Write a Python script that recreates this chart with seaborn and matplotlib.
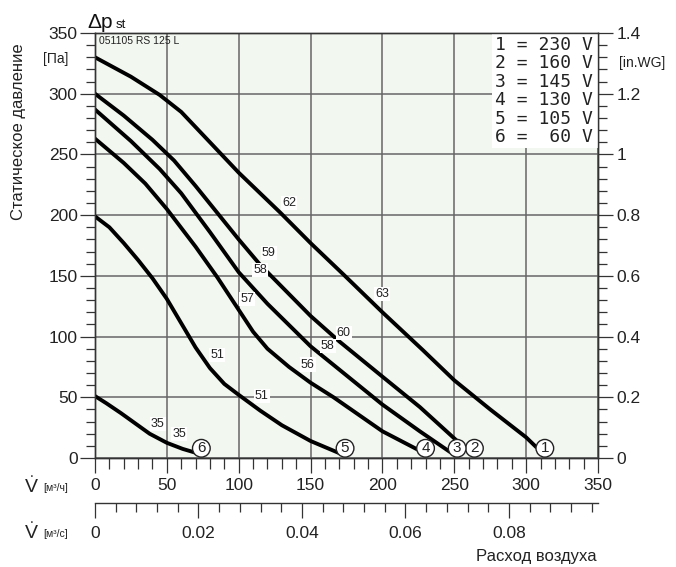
import numpy as np
import pandas as pd
import matplotlib
matplotlib.use('Agg')
import matplotlib.pyplot as plt
from matplotlib.ticker import MultipleLocator, FuncFormatter
from matplotlib.patches import Rectangle
import seaborn as sns

# ---------------- data ----------------
curve_ids = ['1', '2', '3', '4', '5', '6']
voltages = ['230', '160', '145', '130', '105', '60']

c1_x = [0, 25, 45, 60, 80, 100, 129, 150, 173, 200, 228, 250, 275, 300, 307]
c1_y = [330, 314, 299, 285, 260, 235, 202, 177, 151, 120, 89, 64, 40, 17, 9]

c2_x = [0, 20, 40, 55, 70, 85, 100, 115, 130, 150, 170, 200, 226, 252]
c2_y = [300, 282, 262, 245, 224, 202, 180, 159, 141, 117, 96, 67, 42, 14]

c3_x = [0, 25, 45, 60, 80, 100, 120, 150, 175, 200, 226, 247]
c3_y = [287, 261, 238, 218, 186, 153, 127, 92, 68, 44, 22, 5]

c4_x = [0, 20, 35, 50, 70, 85, 100, 110, 120, 135, 150, 166, 200, 226]
c4_y = [263, 243, 226, 205, 174, 149, 122, 104, 90, 75, 62, 50, 22, 6]

c5_x = [0, 10, 20, 30, 40, 50, 60, 70, 80, 90, 100, 115, 130, 150, 170]
c5_y = [199, 190, 177, 163, 148, 131, 111, 91, 74, 61, 52, 39, 27, 14, 4]

c6_x = [0, 8, 18, 28, 38, 50, 61, 71]
c6_y = [51, 45, 37, 28.5, 20, 12.5, 7.5, 4]

curve_x = [c1_x, c2_x, c3_x, c4_x, c5_x, c6_x]
curve_y = [c1_y, c2_y, c3_y, c4_y, c5_y, c6_y]

# end markers (circled numbers)
marker_x = [313, 264, 252, 230, 174, 74]
marker_y = [8, 8, 8, 8, 8, 8]

# sound level labels
snd_text = ['62', '63', '59', '58', '60', '58', '57', '56', '51', '51', '35', '35']
snd_x = [135, 200, 121, 115, 173, 162, 106, 148, 85, 116, 43.6, 58.7]
snd_y = [210, 135, 169, 155, 103, 92, 131, 77, 85, 51, 28, 20]

pa_ticks = [0, 50, 100, 150, 200, 250, 300, 350]
flow_ticks = [0, 50, 100, 150, 200, 250, 300, 350]
inwg_ticks = [0, 0.2, 0.4, 0.6, 0.8, 1.0, 1.2, 1.4]
m3s_ticks = [0, 0.02, 0.04, 0.06, 0.08]

# ---------------- build frame ----------------
rows = []
for cid, xs, ys in zip(curve_ids, curve_x, curve_y):
    for i, (xv, yv) in enumerate(zip(xs, ys)):
        rows.append({'curve': cid, 'order': i, 'flow': xv, 'pressure': yv})
df = pd.DataFrame(rows)

sns.set_style('ticks')
plt.rcParams['font.family'] = ['Liberation Sans', 'DejaVu Sans']
plt.rcParams['lines.solid_joinstyle'] = 'round'
plt.rcParams['lines.solid_capstyle'] = 'round'

W, H = 676, 567
fig = plt.figure(figsize=(W / 100, H / 100), dpi=100)
L, R, T, B = 95, 598, 33, 458
ax = fig.add_axes([L / W, 1 - B / H, (R - L) / W, (B - T) / H])
ax.set_facecolor('#f2f7f0')

def F(px, py):
    return px / W, 1 - py / H

tick_col = '#222222'

sns.lineplot(data=df, x='flow', y='pressure', hue='curve', units='curve',
             estimator=None, sort=False, palette={c: 'black' for c in curve_ids},
             legend=False, linewidth=2.8, ax=ax, zorder=3)
for ln in ax.get_lines():
    ln.set_solid_joinstyle('round')

ax.set_xlim(0, 350)
ax.set_ylim(0, 350)
ax.set_xticks(flow_ticks)
ax.set_yticks(pa_ticks)
ax.xaxis.set_minor_locator(MultipleLocator(10))
ax.yaxis.set_minor_locator(MultipleLocator(10))
ax.grid(True, which='major', color='#666666', linewidth=1.1, zorder=1)
ax.set_axisbelow(True)
ax.set_xlabel('')
ax.set_ylabel('')
for s in ax.spines.values():
    s.set_color('#333333')
    s.set_linewidth(1.0)
    s.set_visible(True)
ax.tick_params(axis='y', which='major', direction='out', length=10.5, width=0.9,
               color='#333333', labelsize=12.5, labelcolor=tick_col, pad=2)
ax.tick_params(axis='y', which='minor', direction='out', length=6.5, width=0.9, color='#333333')
ax.tick_params(axis='x', which='major', direction='out', length=10.5, width=0.9,
               color='#333333', labelsize=12.5, labelcolor=tick_col, pad=4)
ax.tick_params(axis='x', which='minor', direction='out', length=8, width=0.9, color='#333333')

# right axis in.WG
ax2 = ax.twinx()
ax2.set_ylim(0, 1.4)
ax2.set_yticks(inwg_ticks)
ax2.yaxis.set_minor_locator(MultipleLocator(0.04))
ax2.yaxis.set_major_formatter(FuncFormatter(lambda v, p: f'{v:g}'))
ax2.tick_params(axis='y', which='major', direction='out', length=10.5, width=0.9,
                color='#333333', labelsize=12.5, labelcolor=tick_col, pad=3)
ax2.tick_params(axis='y', which='minor', direction='out', length=6.5, width=0.9, color='#333333')
for s in ax2.spines.values():
    s.set_color('#333333')
    s.set_linewidth(1.0)

# secondary bottom axis m3/s
sec = ax.secondary_xaxis(-(503 - 458) / (B - T), functions=(lambda x: x / 3600.0, lambda x: x * 3600.0))
sec.set_xticks(m3s_ticks)
sec.xaxis.set_minor_locator(MultipleLocator(0.004))
sec.xaxis.set_major_formatter(FuncFormatter(lambda v, p: f'{v:g}'))
sec.tick_params(axis='x', which='major', direction='out', length=10.5, width=0.9,
                color='#333333', labelsize=12.5, labelcolor=tick_col, pad=6)
sec.tick_params(axis='x', which='minor', direction='out', length=6.5, width=0.9, color='#333333')
sec.spines['bottom'].set_color('#333333')
sec.spines['bottom'].set_linewidth(1.0)

# sound-level labels
for t, xv, yv in zip(snd_text, snd_x, snd_y):
    ax.text(xv, yv, t, ha='center', va='center', fontsize=9, color='#222222', zorder=5,
            bbox=dict(facecolor='white', edgecolor='none', pad=0.8))

# circled curve numbers
for cid, xv, yv in zip(curve_ids, marker_x, marker_y):
    ax.text(xv, yv, cid, ha='center', va='center', fontsize=11, color='#222222', zorder=6,
            bbox=dict(boxstyle='circle,pad=0.12', facecolor='white', edgecolor='#222222', linewidth=1.0))

# voltage legend box
ax.add_patch(Rectangle((276.5, 255.5), 350 - 276.5, 350 - 255.5, facecolor='white',
                       edgecolor='none', zorder=4))
for i, (cid, v) in enumerate(zip(curve_ids, voltages)):
    ax.text(278.4, 340.2 - i * 15.24, f'{cid} = {v:>3} V', ha='left', va='center',
            fontsize=13, family='DejaVu Sans Mono', color='#222222', zorder=5)

# model text
ax.text(3, 343, '051105 RS 125 L', ha='left', va='center', fontsize=7.5, color='#222222', zorder=5)

# figure texts
fig.text(*F(87, 22), 'Δp', ha='left', va='center', fontsize=15, color='#111111')
fig.text(*F(116, 25), 'st', ha='left', va='center', fontsize=9.5, color='#111111')
fig.text(*F(43, 59), '[Па]', ha='left', va='center', fontsize=10, color='#222222')
fig.text(*F(619, 63), '[in.WG]', ha='left', va='center', fontsize=10, color='#222222')
fig.text(*F(19, 132), 'Статическое давление', rotation=90, ha='center', va='center',
         fontsize=12, color='#222222')
for py in (487, 533):
    fig.text(*F(25, py), 'V', ha='left', va='center', fontsize=14, color='#222222')
    fig.text(*F(31.5, py - 14), '.', ha='center', va='center', fontsize=10, color='#222222')
fig.text(*F(43, 488), '[м³/ч]', ha='left', va='center', fontsize=7.5, color='#222222')
fig.text(*F(43, 534), '[м³/с]', ha='left', va='center', fontsize=7.5, color='#222222')
fig.text(*F(597, 557), 'Расход воздуха', ha='right', va='center', fontsize=12, color='#222222')

fig.savefig('out.png', dpi=100, facecolor='white')
